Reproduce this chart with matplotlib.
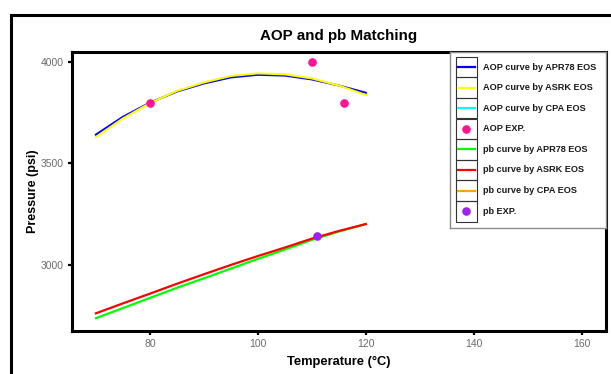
import matplotlib
matplotlib.use("Agg")
import matplotlib.pyplot as plt
from matplotlib.patches import Rectangle
from matplotlib.lines import Line2D

plt.rcParams['font.family'] = ['Liberation Sans', 'DejaVu Sans']

# ---- data ----
temp = [70, 75, 80, 85, 90, 95, 100, 105, 110, 115, 120]
aop_apr78 = [3642, 3730, 3800, 3855, 3895, 3925, 3938, 3934, 3915, 3885, 3849]
aop_asrk = [3630, 3722, 3798, 3858, 3900, 3932, 3945, 3940, 3920, 3885, 3838]
pb_apr78 = [2735, 2785, 2835, 2885, 2932, 2980, 3028, 3074, 3122, 3163, 3200]
pb_asrk = [2759, 2808, 2856, 2905, 2952, 2998, 3042, 3084, 3128, 3166, 3200]
aop_exp_t = [80, 110, 116]
aop_exp_p = [3800, 4000, 3800]
pb_exp_t = [111]
pb_exp_p = [3140]

xticks = [80, 100, 120, 140, 160]
yticks = [3000, 3500, 4000]

legend_labels = ["AOP curve by APR78 EOS", "AOP curve by ASRK EOS", "AOP curve by CPA EOS",
                 "AOP EXP.", "pb curve by APR78 EOS", "pb curve by ASRK EOS",
                 "pb curve by CPA EOS", "pb EXP."]
legend_colors = ["#0000FF", "#FFFF00", "#00FFFF", "#FF1493", "#00FF00", "#FF0000", "#FFA500", "#A020F0"]
legend_kind = ["line", "line", "line", "point", "line", "line", "line", "point"]

W, H = 611, 374
fig = plt.figure(figsize=(W / 100, H / 100), dpi=100)

# outer frame (screenshot border)
fig.patches.append(Rectangle((11 / W, -0.1), 1.2, 1 - 15 / H + 0.1, transform=fig.transFigure,
                             fill=False, edgecolor='black', lw=2.2, zorder=0))

ax = fig.add_axes([71.6 / W, 1 - 330.5 / H, (606 - 71.6) / W, (330.5 - 51.5) / H])
ax.plot(temp, aop_apr78, color=legend_colors[0], lw=1.5, zorder=2)
ax.plot(temp, aop_asrk, color=legend_colors[1], lw=1.5, zorder=3)
ax.plot(temp, pb_apr78, color=legend_colors[4], lw=1.6, zorder=2)
ax.plot(temp, pb_asrk, color=legend_colors[5], lw=1.6, zorder=3)
ax.plot(aop_exp_t, aop_exp_p, 'o', color=legend_colors[3], ms=6.2, mec='none', zorder=4)
ax.plot(pb_exp_t, pb_exp_p, 'o', color=legend_colors[7], ms=6.2, mec='none', zorder=4)

ax.set_xlim(65.5, 164.5)
ax.set_ylim(2674, 4053)
ax.set_xticks(xticks)
ax.set_yticks(yticks)
ax.tick_params(axis='both', direction='out', length=3, width=1.6, color='black',
               labelcolor='#6b6b6b', labelsize=7.5, pad=3)
for s in ax.spines.values():
    s.set_linewidth(2.2)
    s.set_color('black')
ax.set_xlabel("Temperature (°C)", fontsize=9.3, fontweight='bold', labelpad=5)
ax.set_ylabel("Pressure (psi)", fontsize=9, fontweight='bold', labelpad=1)
ax.set_title("AOP and pb Matching", fontsize=10.9, fontweight='bold', pad=8)

# legend (drawn as inset box)
lx0, lx1, ly0, ly1 = 450, 606, 51.5, 228
lax = fig.add_axes([lx0 / W, 1 - ly1 / H, (lx1 - lx0) / W, (ly1 - ly0) / H])
lax.set_xlim(lx0, lx1)
lax.set_ylim(ly1, ly0)
lax.set_xticks([])
lax.set_yticks([])
for s in lax.spines.values():
    s.set_color('#8c8c8c')
    s.set_linewidth(1.0)
lax.set_zorder(5)
top = 56.7
rowh = 20.6
for i, (lab, col, kind) in enumerate(zip(legend_labels, legend_colors, legend_kind)):
    y0 = top + i * rowh
    yc = y0 + rowh / 2
    lax.add_patch(Rectangle((456, y0), 20.7, rowh, fill=False, edgecolor='#333333', lw=0.8))
    if kind == 'line':
        lax.add_line(Line2D([457.5, 475], [yc, yc], color=col, lw=1.6))
    else:
        lax.plot([466.3], [yc], 'o', color=col, ms=6.2, mec='none')
    lax.text(483.3, yc, lab, fontsize=6.6, fontweight='bold', va='center', ha='left', color='#1a1a1a')

fig.savefig("out.png", dpi=100)
